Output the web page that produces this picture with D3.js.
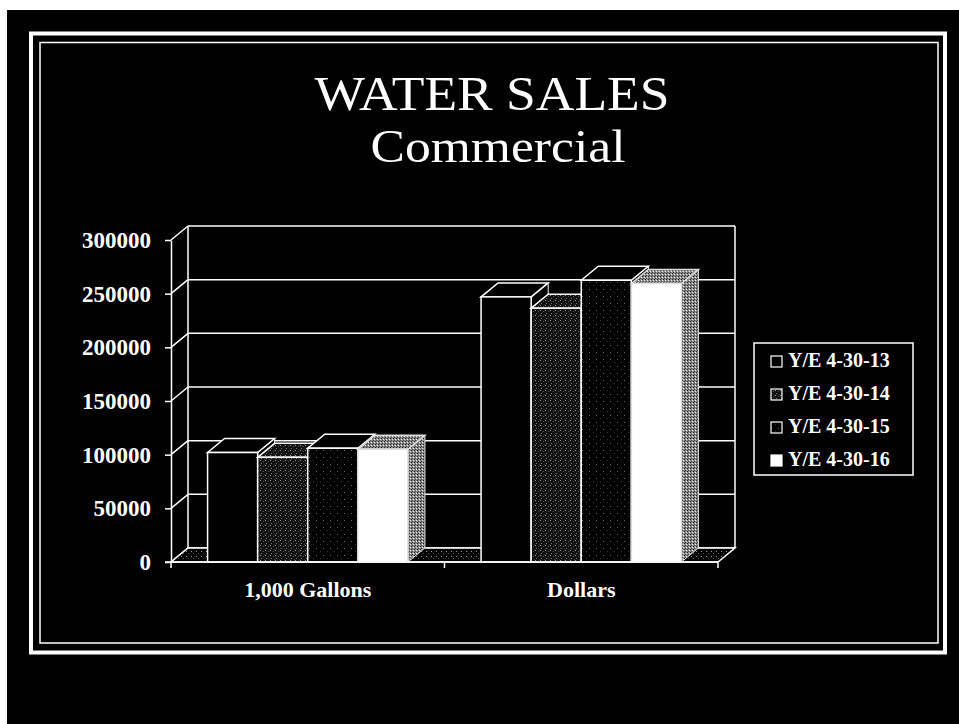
<!DOCTYPE html>
<html>
<head>
<meta charset="utf-8">
<script src="https://cdn.jsdelivr.net/npm/d3@7"></script>
<style>
  body { margin: 0; background: #fff; }
  svg { display: block; }
  text { font-family: "Liberation Serif", "Times New Roman", serif; fill: #fff; }
</style>
</head>
<body>
<div class="chart"></div>
<script>
const categories = ['1,000 Gallons', 'Dollars'];
const series = ['Y/E 4-30-13', 'Y/E 4-30-14', 'Y/E 4-30-15', 'Y/E 4-30-16'];
const gallons = [102000, 97500, 106000, 105000];
const dollars = [247000, 236500, 262500, 259500];
const yTicks = [0, 50000, 100000, 150000, 200000, 250000, 300000];

const values = [gallons, dollars];

const width = 959;
const height = 724;
const dx = 17, dy = -14;

const svg = d3.select('.chart')
	.append('svg')
	.attr('width', width)
	.attr('height', height);

// patterns for the textured faces
const defs = svg.append('defs');
function pattern(id, size, bg, dots) {
	const p = defs.append('pattern')
		.attr('id', id)
		.attr('patternUnits', 'userSpaceOnUse')
		.attr('width', size)
		.attr('height', size);
	p.append('rect').attr('width', size).attr('height', size).attr('fill', bg);
	dots.forEach(d => p.append('rect')
		.attr('x', d[0]).attr('y', d[1]).attr('width', 1).attr('height', 1).attr('fill', d[2]));
}
pattern('dense', 5, '#111', [[0, 0, '#999'], [3, 1, '#555'], [1, 3, '#777'], [4, 4, '#333']]);
pattern('sparse', 7, '#000', [[1, 2, '#666'], [5, 5, '#333']]);
pattern('grey', 3, '#8a8a8a', [[0, 0, '#222'], [2, 1, '#eee'], [1, 2, '#444']]);
pattern('floor', 5, '#000', [[1, 1, '#999'], [3, 3, '#555']]);

const styles = [
	{front: '#000', top: '#000', side: '#000', stroke: '#fff'},
	{front: 'url(#dense)', top: 'url(#dense)', side: 'url(#dense)', stroke: '#fff'},
	{front: 'url(#sparse)', top: '#000', side: 'url(#sparse)', stroke: '#fff'},
	{front: '#fff', top: 'url(#grey)', side: 'url(#grey)', stroke: '#ddd'}
];

// page
svg.append('rect').attr('x', 7).attr('y', 10).attr('width', width).attr('height', height).attr('fill', '#000');
svg.append('rect').attr('x', 31).attr('y', 33.5).attr('width', 914).attr('height', 619)
	.attr('fill', 'none').attr('stroke', '#fff').attr('stroke-width', 4);
svg.append('rect').attr('x', 40).attr('y', 42.5).attr('width', 898).attr('height', 600.5)
	.attr('fill', 'none').attr('stroke', '#fff').attr('stroke-width', 1.5);

svg.append('text').attr('x', 492).attr('y', 110).attr('text-anchor', 'middle')
	.attr('font-size', '48px').attr('textLength', 355).attr('lengthAdjust', 'spacingAndGlyphs')
	.text('WATER SALES');
svg.append('text').attr('x', 498).attr('y', 162).attr('text-anchor', 'middle')
	.attr('font-size', '46px').attr('textLength', 255).attr('lengthAdjust', 'spacingAndGlyphs')
	.text('Commercial');

const y = d3.scaleLinear().domain([0, 300000]).range([562, 240]);
const x0 = d3.scaleBand().domain(categories).range([171, 718]);
const x1 = d3.scaleBand().domain(series).range([0, x0.bandwidth()]).paddingOuter(0.73);

const left = x0.range()[0], right = x0.range()[1];
const line = (a, b, c, d) => svg.append('line')
	.attr('x1', a).attr('y1', b).attr('x2', c).attr('y2', d)
	.attr('stroke', '#fff').attr('stroke-width', 1.5);

// back wall and side wall
svg.selectAll('line.grid')
	.data(yTicks)
	.enter()
	.append('line')
	.attr('class', 'grid')
	.attr('x1', left + dx).attr('x2', right + dx)
	.attr('y1', d => y(d) + dy).attr('y2', d => y(d) + dy)
	.attr('stroke', '#fff').attr('stroke-width', 1.5);
svg.selectAll('line.wall')
	.data(yTicks)
	.enter()
	.append('line')
	.attr('class', 'wall')
	.attr('x1', left).attr('x2', left + dx)
	.attr('y1', d => y(d)).attr('y2', d => y(d) + dy)
	.attr('stroke', '#fff').attr('stroke-width', 1.5);
line(left + dx, y(0) + dy, left + dx, y(300000) + dy);
line(right + dx, y(0) + dy, right + dx, y(300000) + dy);

// floor
svg.append('polygon')
	.attr('points', [[left, y(0)], [left + dx, y(0) + dy], [right + dx, y(0) + dy], [right, y(0)]].join(' '))
	.attr('fill', 'url(#floor)').attr('stroke', '#fff').attr('stroke-width', 1.5);

// bars, left to right so each covers the side of the previous one
const bars = [];
categories.forEach((c, ci) => series.forEach((s, si) => bars.push({c: c, s: s, si: si, v: values[ci][si]})));

const g = svg.selectAll('g.bar')
	.data(bars)
	.enter()
	.append('g')
	.attr('class', 'bar');

g.each(function(d) {
	const bx = x0(d.c) + x1(d.s), w = x1.bandwidth();
	const yt = y(d.v), yb = y(0);
	const st = styles[d.si];
	const el = d3.select(this);
	el.append('polygon')
		.attr('points', [[bx + w, yt], [bx + w + dx, yt + dy], [bx + w + dx, yb + dy], [bx + w, yb]].join(' '))
		.attr('fill', st.side).attr('stroke', st.stroke).attr('stroke-width', 1);
	el.append('polygon')
		.attr('points', [[bx, yt], [bx + dx, yt + dy], [bx + w + dx, yt + dy], [bx + w, yt]].join(' '))
		.attr('fill', st.top).attr('stroke', st.stroke).attr('stroke-width', 1.5);
	el.append('rect')
		.attr('x', bx).attr('y', yt).attr('width', w).attr('height', yb - yt)
		.attr('fill', st.front).attr('stroke', st.stroke).attr('stroke-width', 1.5);
});

// front axes
line(left - 6, y(0), right, y(0));
const yAxis = svg.append('g')
	.attr('transform', `translate(${left},0)`)
	.call(d3.axisLeft(y).tickValues(yTicks).tickFormat(d3.format('d')).tickSize(6).tickSizeOuter(0).tickPadding(14));
yAxis.select('.domain').attr('stroke', '#fff').attr('stroke-width', 1.5);
yAxis.selectAll('.tick line').attr('stroke', '#fff').attr('stroke-width', 1.5);
yAxis.selectAll('text').attr('fill', '#fff').attr('font-size', '23px').attr('font-weight', 'bold')
	.attr('font-family', '"Liberation Serif", "Times New Roman", serif');

svg.selectAll('line.cat')
	.data([left, left + x0.step(), right])
	.enter()
	.append('line')
	.attr('x1', d => d).attr('x2', d => d)
	.attr('y1', y(0)).attr('y2', y(0) + 6)
	.attr('stroke', '#fff').attr('stroke-width', 1.5);

const xAxis = svg.append('g')
	.attr('transform', `translate(0,${y(0)})`)
	.call(d3.axisBottom(x0).tickSize(0).tickPadding(19));
xAxis.select('.domain').remove();
xAxis.selectAll('text').attr('fill', '#fff').attr('font-size', '22px').attr('font-weight', 'bold')
	.attr('font-family', '"Liberation Serif", "Times New Roman", serif');

// legend
const legend = svg.append('g');
legend.append('rect').attr('x', 754).attr('y', 343).attr('width', 159).attr('height', 132)
	.attr('fill', '#000').attr('stroke', '#fff').attr('stroke-width', 1.5);
const rows = legend.selectAll('g.row')
	.data(series)
	.enter()
	.append('g')
	.attr('class', 'row')
	.attr('transform', (d, i) => `translate(0,${367 + i * 33})`);
rows.append('rect')
	.attr('x', 771).attr('y', -11).attr('width', 11).attr('height', 11)
	.attr('fill', (d, i) => styles[i].front)
	.attr('stroke', '#fff').attr('stroke-width', 1.2);
rows.append('text')
	.attr('x', 788)
	.attr('font-size', '20px')
	.attr('font-weight', 'bold')
	.text(d => d);
</script>
</body>
</html>
